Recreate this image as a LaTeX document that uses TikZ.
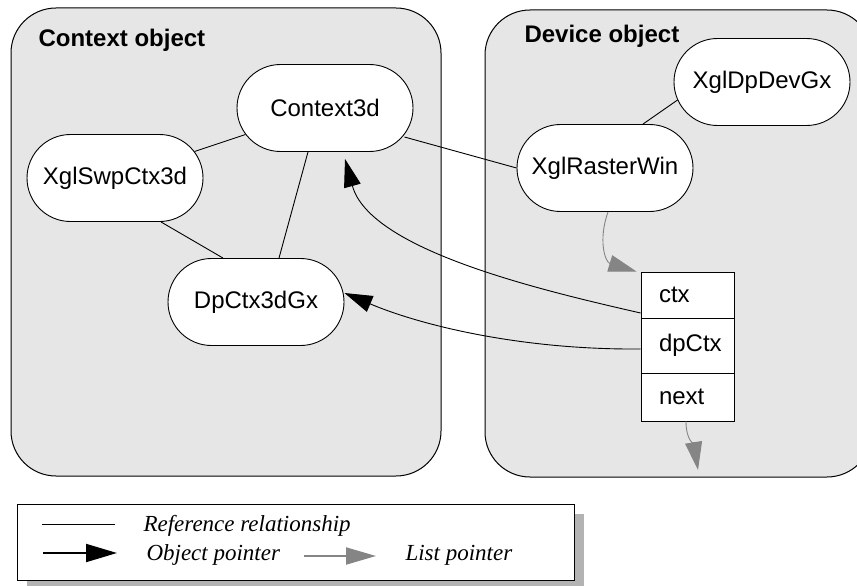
\documentclass[tikz,border=0pt]{standalone}
\usepackage{fontspec}
\setmainfont{Liberation Sans}
\newfontfamily\legendfont{Liberation Serif}
\usetikzlibrary{shapes.misc,arrows.meta}
\definecolor{panel}{HTML}{E6E6E6}
\definecolor{listgray}{HTML}{858585}
\definecolor{shadowgray}{HTML}{B3B3B3}
\begin{document}
\begin{tikzpicture}[x=1pt,y=-1pt,
  every node/.style={font=\fontsize{24}{28}\selectfont},
  obj/.style={draw, rounded rectangle, fill=white, minimum width=176pt, minimum height=87pt, inner sep=0pt, line width=0.9pt},
  panelbox/.style={draw, fill=panel, rounded corners=45pt, line width=1pt},
  field/.style={draw, fill=white, text width=57pt, inner xsep=18pt, inner ysep=0pt, align=left, line width=0.9pt},
  refline/.style={line width=0.9pt},
  objptr/.style={line width=0.9pt, -{Triangle[length=28pt,width=17pt]}},
  listptr/.style={line width=0.9pt, draw=listgray, -{Triangle[length=28pt,width=17pt]}},
  legtext/.style={anchor=base west, font=\legendfont\itshape\fontsize{23}{27}\selectfont},
  title/.style={anchor=base west, font=\bfseries\fontsize{24}{28}\selectfont}]
\useasboundingbox (0,0) rectangle (857,586);
\clip (0,0) rectangle (857,586);
% panels
\path[panelbox] (11,8) rectangle (441,476);
\path[panelbox] (485,10) rectangle (872,477);
\node[title] (ctxtitle) at (35,47) {Context object};
\node[title] (devtitle) at (521,43) {Device object};
% objects
\node[obj] (ctx3d) at (325,108) {Context3d};
\node[obj] (swp) at (115,178) {XglSwpCtx3d};
\node[obj] (dp) at (256,302) {DpCtx3dGx};
\node[obj] (dev) at (762,82) {XglDpDevGx};
\node[obj] (rw) at (605,168) {XglRasterWin};
% list element
\node[field, minimum height=46pt] (ctxf) at (687.5,295) {ctx};
\node[field, minimum height=55pt] (dpf) at (687.5,345.5) {dpCtx};
\node[field, minimum height=48pt] (nextf) at (687.5,397) {next};
% reference relationships
\draw[refline] (ctx3d) -- (swp);
\draw[refline] ([xshift=46pt]swp.south) -- ([xshift=-33pt]dp.north);
\draw[refline] ([xshift=-17pt]ctx3d.south) -- ([xshift=23pt]dp.north);
\draw[refline] ([xshift=-9pt,yshift=-29pt]ctx3d.east) -- (rw.west);
\draw[refline] ([xshift=4pt,yshift=-18pt]dev.west) -- ([xshift=38pt]rw.north);
% object pointers
\draw[objptr] ([yshift=-18pt]ctxf.west) .. controls (540,290) and (370,250) .. ([xshift=20pt,yshift=-7pt]ctx3d.south);
\draw[objptr] ([yshift=-3.5pt]dpf.west) .. controls (520,350) and (420,325) .. ([yshift=9pt]dp.east);
% list pointers
\draw[listptr] ([xshift=3pt]rw.south) .. controls (598,240) and (605,262) .. ([xshift=-4pt]ctxf.north west);
\coordinate (nexttip) at (698,470);
\draw[listptr] ([xshift=-1.5pt]nextf.south) .. controls (686,440) and (694,445) .. (nexttip);
% legend
\path[fill=shadowgray] (27,514) rectangle (584,600);
\path[draw, fill=white, line width=1pt] (17,504) rectangle (574,580);
\coordinate (la) at (42,524);
\coordinate (lb) at (115,524);
\draw[refline] (la) -- (lb);
\coordinate (oa) at (43,553);
\coordinate (ob) at (117,553);
\draw[line width=2pt, -{Triangle[length=31pt,width=18pt]}] (oa) -- (ob);
\coordinate (pa) at (304,556);
\coordinate (pb) at (376,556);
\draw[line width=2pt, draw=listgray, -{Triangle[length=30pt,width=17pt]}] (pa) -- (pb);
\node[legtext] (t1) at (140,531) {Reference relationship};
\node[legtext] (t2) at (143,560) {Object pointer};
\node[legtext] (t3) at (402,560) {List pointer};
\end{tikzpicture}
\end{document}
